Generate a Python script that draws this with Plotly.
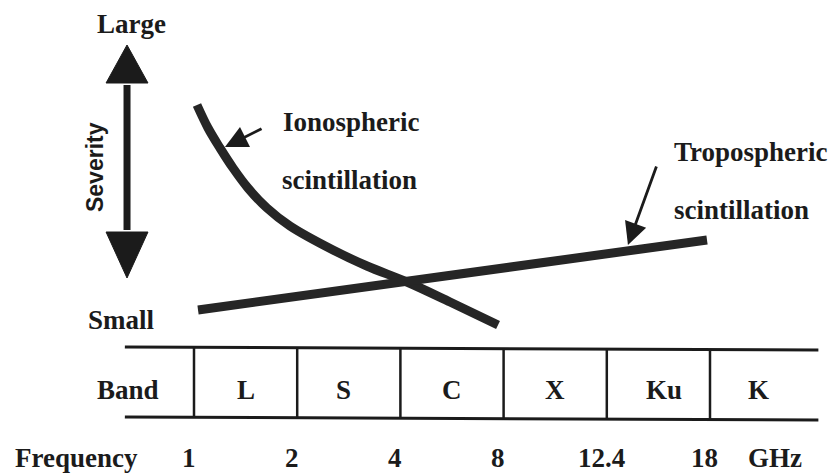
import plotly.graph_objects as go

# ---------------- data (x: band-boundary index, y: height units) ----------------
band_names = ["L", "S", "C", "X", "Ku", "K"]
band_label_pos = [0.5, 1.45, 2.5, 3.5, 4.55, 5.47]
band_boundaries = [0, 1, 2, 3, 4, 5]
freq_labels = ["1", "2", "4", "8", "12.4", "18"]
freq_unit = "GHz"

iono_x = [0.029, 0.136, 0.252, 0.378, 0.523, 0.707, 0.930, 1.347, 1.676, 2.064, 2.481, 2.946]
iono_y = [370, 347, 327, 307, 287, 267, 249, 225, 209, 193, 173, 150]

tropo_x = [0.039, 4.971]
tropo_y = [165, 235]

# severity double arrow: x, top tip, top base, bottom base, bottom tip, half-width
sev_x = -0.649
sev_tip_top, sev_base_top, sev_base_bot, sev_tip_bot = 430, 392, 243, 197
sev_half_w = 0.203

# table rows (left / right heights, the printed rules are slightly tilted)
table_x0, table_x1 = -0.67, 6.05
table_top = [128, 125]
table_bot = [58, 55]
band_row_y = 85
freq_row_y = 17

INK = "#1b1b1b"
SERIF = "Liberation Serif, Times New Roman, serif"
FS = 27

fig = go.Figure()

# curves
fig.add_trace(go.Scatter(x=iono_x, y=iono_y, mode="lines", line_shape="spline",
                         line=dict(color="#262626", width=9, smoothing=1.0), hoverinfo="skip"))
fig.add_trace(go.Scatter(x=tropo_x, y=tropo_y, mode="lines",
                         line=dict(color="#262626", width=9), hoverinfo="skip"))

# severity arrow: shaft and heads
fig.add_trace(go.Scatter(x=[sev_x, sev_x], y=[sev_base_bot + 2, sev_base_top - 2], mode="lines",
                         line=dict(color=INK, width=7), hoverinfo="skip"))
fig.add_trace(go.Scatter(x=[sev_x - sev_half_w, sev_x + sev_half_w, sev_x, sev_x - sev_half_w],
                         y=[sev_base_top, sev_base_top, sev_tip_top, sev_base_top],
                         mode="lines", fill="toself", fillcolor=INK,
                         line=dict(color=INK, width=1), hoverinfo="skip"))
fig.add_trace(go.Scatter(x=[sev_x - sev_half_w, sev_x + sev_half_w, sev_x, sev_x - sev_half_w],
                         y=[sev_base_bot, sev_base_bot, sev_tip_bot, sev_base_bot],
                         mode="lines", fill="toself", fillcolor=INK,
                         line=dict(color=INK, width=1), hoverinfo="skip"))

# table lines
def y_at(row, x):
    return row[0] + (row[1] - row[0]) * (x - table_x0) / (table_x1 - table_x0)

for row in (table_top, table_bot):
    fig.add_shape(type="line", xref="x", yref="y", x0=table_x0, x1=table_x1, y0=row[0], y1=row[1],
                  line=dict(color=INK, width=3))
for b in band_boundaries:
    fig.add_shape(type="line", xref="x", yref="y", x0=b, x1=b,
                  y0=y_at(table_bot, b), y1=y_at(table_top, b),
                  line=dict(color=INK, width=2.5))

def txt(x, y, s, xanchor="center", size=FS, family=SERIF, angle=0, weight="bold"):
    fig.add_annotation(x=x, y=y, xref="x", yref="y", text=s, showarrow=False,
                       xanchor=xanchor, yanchor="middle", textangle=angle,
                       font=dict(family=family, size=size, color=INK, weight=weight))

# band row
txt(-0.640, band_row_y, "Band")
for name, pos in zip(band_names, band_label_pos):
    txt(pos, band_row_y, name)

# frequency row
txt(-1.143, freq_row_y, "Frequency")
for lab, b in zip(freq_labels, band_boundaries):
    txt(b - 0.05, freq_row_y, lab)
txt(5.63, freq_row_y, freq_unit)

# severity labels
txt(-0.601, 451, "Large")
txt(-0.698, 155, "Small")
txt(-0.959, 308, "Severity", size=23, family="Liberation Sans, Arial, sans-serif", angle=-90)

# curve labels
txt(0.843, 353, "Ionospheric", xanchor="left")
txt(0.833, 295, "scintillation", xanchor="left")
txt(4.632, 323, "Tropospheric", xanchor="left")
txt(4.632, 265, "scintillation", xanchor="left")

# pointer arrows
for (tx, ty, hx, hy) in [(0.669, 347, 0.300, 328), (4.486, 310, 4.205, 230)]:
    fig.add_annotation(x=hx, y=hy, ax=tx, ay=ty, xref="x", yref="y", axref="x", ayref="y",
                       text="", showarrow=True, arrowhead=2, arrowsize=1.6, arrowwidth=2.8,
                       arrowcolor=INK, standoff=0)

fig.update_layout(
    width=837, height=475, margin=dict(l=0, r=0, t=0, b=0),
    paper_bgcolor="white", plot_bgcolor="white", showlegend=False,
    xaxis=dict(range=[-1.8798, 6.2306], visible=False, fixedrange=True),
    yaxis=dict(range=[0, 475], visible=False, fixedrange=True),
)

fig.write_html("out.html", config={"displayModeBar": False},
               post_script="document.body.style.margin='0px';document.body.style.overflow='hidden';")
